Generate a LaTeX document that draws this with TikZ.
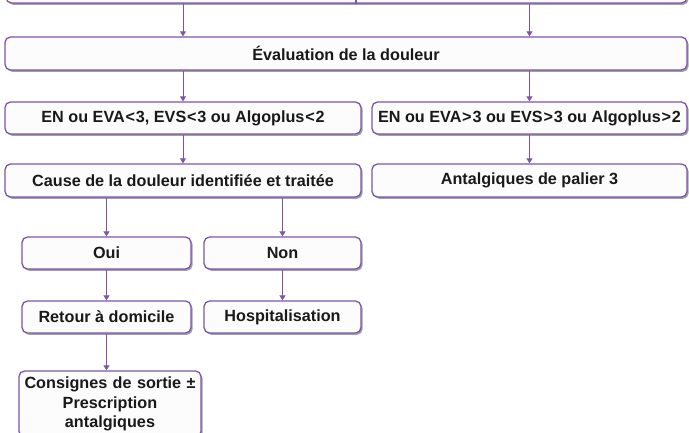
\documentclass[tikz,border=0pt]{standalone}
\usepackage{fontspec}
\setmainfont{Liberation Sans}
\usetikzlibrary{arrows.meta,shadows}
\definecolor{flowline}{RGB}{125,84,172}
\definecolor{boxfill}{RGB}{253,252,252}
\definecolor{shadowgray}{RGB}{150,150,150}
\newcommand{\rel}[1]{\kern0.8pt#1\kern0.8pt}
\begin{document}
\begin{tikzpicture}[x=1pt,y=-1pt,
  flowbox/.style={draw=flowline, line width=1.3pt, fill=boxfill,
    rounded corners=5.5pt, inner sep=0pt, align=center,
    font=\fontsize{16.2}{19.5}\selectfont\bfseries, text=black!90,
    drop shadow={shadow xshift=1.6pt, shadow yshift=-1.8pt,
      fill=shadowgray, opacity=0.9}},
  flowarrow/.style={draw=flowline, line width=0.9pt,
    -{Triangle[width=6pt,length=5pt]}}]
\useasboundingbox (0,0) rectangle (689,433);
\begin{scope}
\clip (0,0) rectangle (689,433);
% boxes, row by row
\node[flowbox, minimum width=681pt, minimum height=40pt] (top) at (346.5,-17) {};
\node[flowbox, minimum width=682pt, minimum height=33pt] (eval) at (346,53.5) {Évaluation de la douleur};
\node[flowbox, minimum width=356pt, minimum height=32pt] (low) at (183,118) {EN ou EVA\rel{<}3, EVS\rel{<}3 ou Algoplus\rel{<}2};
\node[flowbox, minimum width=315pt, minimum height=32pt] (high) at (529.5,118) {EN ou EVA\rel{>}3 ou EVS\rel{>}3 ou Algoplus\rel{>}2};
\node[flowbox, minimum width=356pt, minimum height=33pt] (cause) at (183,180.5) {Cause de la douleur identifiée et traitée};
\node[flowbox, minimum width=315pt, minimum height=33pt] (palier) at (529.5,180.5) {Antalgiques de palier 3};
\node[flowbox, minimum width=169pt, minimum height=32pt] (oui) at (106.5,253) {Oui};
\node[flowbox, minimum width=157pt, minimum height=32pt] (non) at (282.5,253) {Non};
\node[flowbox, minimum width=169pt, minimum height=32pt] (retour) at (106.5,317) {Retour à domicile};
\node[flowbox, minimum width=157pt, minimum height=32pt] (hosp) at (282.5,317) {Hospitalisation};
\node[flowbox, minimum width=182pt, minimum height=66pt, text width=182pt] (consignes) at (110,404)
  {Consignes de sortie ±\\Prescription\\antalgiques};
% divider in the upper box
\coordinate (div) at (356,0);
\draw[draw=flowline, line width=1.3pt] (top.south -| div) -- (top.north -| div);
% connectors
\draw[flowarrow] (top.south -| low) -- (eval.north -| low);
\draw[flowarrow] (top.south -| high) -- (eval.north -| high);
\draw[flowarrow] (eval.south -| low) -- (low.north);
\draw[flowarrow] (eval.south -| high) -- (high.north);
\draw[flowarrow] (low) -- (cause);
\draw[flowarrow] (high) -- (palier);
\draw[flowarrow] (cause.south -| oui) -- (oui.north);
\draw[flowarrow] (cause.south -| non) -- (non.north);
\draw[flowarrow] (oui) -- (retour);
\draw[flowarrow] (non) -- (hosp);
\draw[flowarrow] (retour.south) -- (consignes.north -| retour);
\end{scope}
\end{tikzpicture}
\end{document}
